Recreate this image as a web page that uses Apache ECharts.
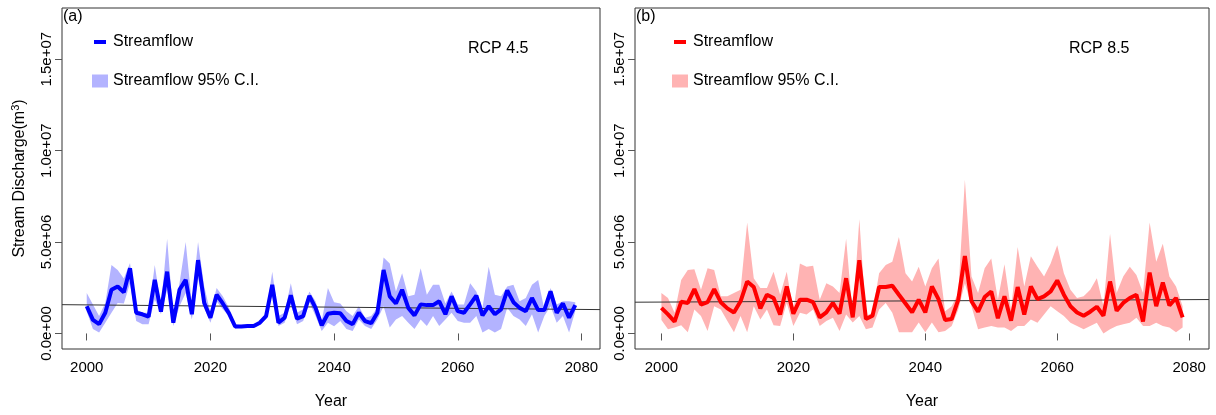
<!DOCTYPE html>
<html>
<head>
<meta charset="utf-8">
<script src="https://cdn.jsdelivr.net/npm/echarts@6/dist/echarts.min.js"></script>
<style>
html, body { margin: 0; padding: 0; background: #fff; }
#chart { width: 1216px; height: 415px; }
</style>
</head>
<body>
<div id="chart"></div>
<script>
// years on the x axis
const years = [
  2000, 2001, 2002, 2003, 2004, 2005, 2006, 2007, 2008, 2009,
  2010, 2011, 2012, 2013, 2014, 2015, 2016, 2017, 2018, 2019,
  2020, 2021, 2022, 2023, 2024, 2025, 2026, 2027, 2028, 2029,
  2030, 2031, 2032, 2033, 2034, 2035, 2036, 2037, 2038, 2039,
  2040, 2041, 2042, 2043, 2044, 2045, 2046, 2047, 2048, 2049,
  2050, 2051, 2052, 2053, 2054, 2055, 2056, 2057, 2058, 2059,
  2060, 2061, 2062, 2063, 2064, 2065, 2066, 2067, 2068, 2069,
  2070, 2071, 2072, 2073, 2074, 2075, 2076, 2077, 2078, 2079
];

// RCP 4.5, values in millions of m3
const flowA = [
  1.49, 0.74, 0.51, 1.13, 2.39, 2.57, 2.25, 3.56, 1.13, 1.05,
  0.92, 2.93, 1.19, 3.38, 0.59, 2.39, 2.93, 1.05, 4.01, 1.67,
  0.86, 2.12, 1.64, 1.10, 0.38, 0.38, 0.41, 0.41, 0.59, 0.95,
  2.66, 0.59, 0.86, 2.09, 0.81, 0.95, 2.06, 1.40, 0.45, 1.08,
  1.13, 1.10, 0.68, 0.51, 1.13, 0.68, 0.56, 1.13, 3.47, 2.03,
  1.64, 2.39, 1.40, 0.99, 1.59, 1.55, 1.55, 1.76, 1.05, 2.03,
  1.22, 1.13, 1.59, 2.07, 0.99, 1.49, 1.05, 1.32, 2.36, 1.71,
  1.40, 1.22, 1.94, 1.28, 1.28, 2.30, 1.13, 1.64, 0.86, 1.55
];
const upperA = [
  2.21, 1.59, 0.95, 1.67, 3.74, 3.47, 3.00, 3.85, 1.32, 1.13,
  1.13, 3.74, 1.49, 5.18, 0.95, 2.75, 5.00, 1.67, 5.00, 2.57,
  1.13, 2.48, 2.03, 1.40, 0.51, 0.45, 0.45, 0.45, 0.70, 1.10,
  3.38, 0.95, 1.13, 2.75, 1.13, 1.32, 2.30, 1.76, 0.68, 2.48,
  1.71, 1.64, 1.22, 0.95, 1.49, 0.86, 0.95, 1.40, 4.16, 3.83,
  2.30, 3.29, 2.03, 2.12, 3.56, 2.12, 2.66, 2.66, 1.64, 2.30,
  1.59, 1.59, 2.75, 2.30, 1.40, 3.65, 2.12, 2.03, 2.57, 2.66,
  1.76, 1.94, 2.66, 2.93, 1.32, 2.48, 1.59, 1.76, 1.76, 1.71
];
const lowerA = [
  1.20, 0.24, 0.05, 0.59, 1.13, 1.67, 1.64, 2.75, 0.68, 0.51,
  0.51, 1.86, 1.05, 2.39, 0.41, 1.49, 2.21, 0.76, 3.02, 1.40,
  0.59, 1.76, 1.32, 0.95, 0.27, 0.32, 0.32, 0.32, 0.50, 0.80,
  2.12, 0.41, 0.59, 1.59, 0.51, 0.68, 1.71, 0.95, 0.14, 0.59,
  0.40, 0.68, 0.24, 0.14, 0.77, 0.41, 0.24, 0.77, 1.49, 0.32,
  0.77, 0.95, 0.59, 0.24, 0.77, 0.41, 0.95, 0.41, 0.77, 1.13,
  0.68, 0.59, 0.59, 0.95, 0.05, 0.24, 0.05, 0.24, 1.40, 0.95,
  0.77, 0.41, 1.05, 0.05, 0.95, 1.49, 0.59, 0.95, 0.05, 1.22
];
// horizontal reference line, value at left and right edge
const refA = [1.575, 1.305];

// RCP 8.5
const flowB = [
  1.40, 1.04, 0.65, 1.73, 1.67, 2.43, 1.58, 1.71, 2.43, 1.71,
  1.37, 1.15, 1.76, 2.84, 2.54, 1.37, 2.12, 1.94, 1.04, 2.57,
  1.08, 1.85, 1.85, 1.71, 0.88, 1.15, 1.67, 1.08, 3.02, 0.88,
  4.01, 0.79, 0.97, 2.54, 2.54, 2.61, 2.12, 1.64, 1.15, 1.85,
  1.15, 2.57, 1.88, 0.74, 0.79, 1.85, 4.23, 1.76, 1.19, 1.99,
  2.30, 0.83, 2.03, 0.70, 2.54, 1.04, 2.57, 1.88, 2.03, 2.30,
  2.90, 2.12, 1.49, 1.15, 0.97, 1.19, 1.46, 0.97, 2.84, 1.24,
  1.67, 1.94, 2.12, 0.65, 3.33, 1.49, 2.79, 1.53, 1.94, 0.88
];
const upperB = [
  2.21, 1.94, 1.13, 2.93, 3.47, 3.51, 2.39, 3.56, 3.47, 2.03,
  2.03, 2.21, 2.39, 6.07, 3.02, 2.48, 2.48, 3.38, 2.12, 3.38,
  1.20, 3.83, 3.65, 3.70, 1.85, 2.75, 2.57, 2.21, 5.18, 0.95,
  6.25, 0.95, 1.13, 3.29, 3.74, 3.92, 5.27, 3.29, 2.84, 3.65,
  2.57, 3.56, 4.10, 1.22, 1.49, 2.21, 8.41, 3.11, 2.21, 3.56,
  4.10, 1.85, 3.79, 1.31, 4.73, 2.57, 4.22, 3.65, 3.11, 3.83,
  4.82, 3.29, 2.39, 1.94, 2.03, 2.39, 3.02, 1.49, 5.45, 2.21,
  3.11, 3.65, 3.20, 2.21, 6.07, 3.92, 4.91, 3.11, 2.57, 1.49
];
const lowerB = [
  0.74, 0.23, 0.32, 0.45, 0.06, 1.31, 0.95, 0.14, 1.49, 1.31,
  0.68, 0.06, 0.95, 0.06, 1.49, 0.77, 1.31, 0.45, 0.41, 1.67,
  0.41, 1.13, 1.04, 1.31, 0.41, 0.68, 0.86, 0.14, 1.04, 0.60,
  0.95, 0.23, 0.32, 1.31, 1.67, 1.13, 0.06, 0.06, 0.06, 0.60,
  0.06, 0.60, 0.06, 0.14, 0.41, 1.31, 2.75, 1.49, 0.23, 0.32,
  0.41, 0.32, 0.32, 0.14, 0.41, 0.41, 0.77, 0.59, 1.04, 1.49,
  1.22, 0.95, 0.59, 0.41, 0.23, 0.41, 0.59, 0.00, 0.23, 0.41,
  0.50, 0.59, 0.86, 0.41, 0.41, 0.59, 0.41, 0.32, 0.06, 0.32
];
const refB = [1.71, 1.855];

// ticks
const xTicks = [2000, 2020, 2040, 2060, 2080];
const yTicks = [0, 5, 10, 15];
const yTickLabels = ['0.0e+00', '5.0e+06', '1.0e+07', '1.5e+07'];

const FONT = "'Liberation Sans', Arial, sans-serif";
const X_MIN = 1996, X_MAX = 2083;

function pairs(vals) {
  return years.map((y, i) => [y, vals[i]]);
}

function xAxisFor(idx) {
  return {
    gridIndex: idx, type: 'value', min: X_MIN, max: X_MAX,
    axisLine: { show: false },
    splitLine: { show: false },
    axisTick: { show: true, length: 7, customValues: xTicks, lineStyle: { color: '#555' } },
    axisLabel: {
      customValues: xTicks, margin: 11, fontSize: 15, color: '#000', fontFamily: FONT,
      formatter: v => String(v)
    },
    name: 'Year', nameLocation: 'middle', nameGap: 45,
    nameTextStyle: { fontSize: 16, color: '#000', fontFamily: FONT }
  };
}

function yAxisFor(idx, withName) {
  let ax = {
    gridIndex: idx, type: 'value', min: -0.85, max: 17.8,
    axisLine: { show: false },
    splitLine: { show: false },
    axisTick: { show: true, length: 7, customValues: yTicks, lineStyle: { color: '#555' } },
    axisLabel: {
      customValues: yTicks, rotate: 90, margin: 8, fontSize: 15, color: '#000', fontFamily: FONT,
      formatter: v => yTickLabels[yTicks.indexOf(v)]
    }
  };
  if (withName) {
    ax.name = '{a|Stream Discharge(m}{s|3}{a|)}';
    ax.nameLocation = 'middle';
    ax.nameRotate = 90;
    ax.nameGap = 33;
    ax.nameTextStyle = {
      rich: {
        a: { fontSize: 16, color: '#000', fontFamily: FONT },
        s: { fontSize: 11, color: '#000', fontFamily: FONT, verticalAlign: 'top', padding: [0, 0, 8, 0] }
      }
    };
  }
  return ax;
}

// the C.I. band: one polygon, upper edge forward then lower edge back
function bandRenderer(lower, upper, color) {
  return function (params, api) {
    if (params.dataIndex !== 0) return null;
    const top = years.map((y, i) => api.coord([y, upper[i]]));
    const bot = years.map((y, i) => api.coord([y, lower[i]])).reverse();
    return {
      type: 'polygon',
      shape: { points: top.concat(bot) },
      style: { fill: color }
    };
  };
}

function panelSeries(idx, flow, lower, upper, ref, lineColor, bandColor) {
  return [
    {
      name: 'Streamflow 95% C.I.', type: 'custom', xAxisIndex: idx, yAxisIndex: idx,
      data: years.map((y, i) => [y, lower[i], upper[i]]),
      encode: { x: 0, y: [1, 2] },
      renderItem: bandRenderer(lower, upper, bandColor),
      itemStyle: { color: bandColor }, silent: true, z: 2
    },
    {
      name: 'Streamflow', type: 'line', xAxisIndex: idx, yAxisIndex: idx, z: 4,
      data: pairs(flow), symbol: 'none',
      lineStyle: { color: lineColor, width: 4 }, itemStyle: { color: lineColor },
      markLine: {
        silent: true, symbol: 'none', label: { show: false }, z: 3,
        lineStyle: { color: '#333', width: 1, type: 'solid' },
        data: [[{ coord: [X_MIN, ref[0]] }, { coord: [X_MAX, ref[1]] }]]
      }
    }
  ];
}

function legendFor(left, lineColor, bandColor) {
  return [
    {
      left: left + 2, top: 34, orient: 'vertical', padding: 0,
      data: [{ name: 'Streamflow', icon: 'rect', itemStyle: { color: lineColor } }],
      itemWidth: 12, itemHeight: 4,
      textStyle: { fontSize: 16, color: '#000', fontFamily: FONT, padding: [0, 0, 0, 2] }
    },
    {
      left: left, top: 73, orient: 'vertical', padding: 0,
      data: [{ name: 'Streamflow 95% C.I.', icon: 'rect', itemStyle: { color: bandColor } }],
      itemWidth: 16, itemHeight: 13,
      textStyle: { fontSize: 16, color: '#000', fontFamily: FONT }
    }
  ];
}

function label(text, left, top) {
  return {
    text: text, left: left, top: top, padding: 0,
    textStyle: { fontSize: 16, fontWeight: 'normal', color: '#000', fontFamily: FONT }
  };
}

const blue = '#0000ff', blueBand = '#b3b3ff';
const red = '#ff0000', redBand = '#ffb3b3';

const chart = echarts.init(document.getElementById('chart'));
chart.setOption({
  animation: false,
  backgroundColor: '#fff',
  title: [
    label('(a)', 63, 9), label('RCP 4.5', 468, 41),
    label('(b)', 636, 9), label('RCP 8.5', 1069, 41)
  ],
  legend: legendFor(92, blue, blueBand).concat(legendFor(672, red, redBand)),
  grid: [
    { left: 62, top: 8, width: 538, height: 345, show: true, borderColor: '#333', borderWidth: 1, backgroundColor: 'transparent' },
    { left: 635, top: 8, width: 574, height: 345, show: true, borderColor: '#333', borderWidth: 1, backgroundColor: 'transparent' }
  ],
  xAxis: [xAxisFor(0), xAxisFor(1)],
  yAxis: [yAxisFor(0, true), yAxisFor(1, false)],
  series: panelSeries(0, flowA, lowerA, upperA, refA, blue, blueBand)
    .concat(panelSeries(1, flowB, lowerB, upperB, refB, red, redBand))
});
</script>
</body>
</html>
